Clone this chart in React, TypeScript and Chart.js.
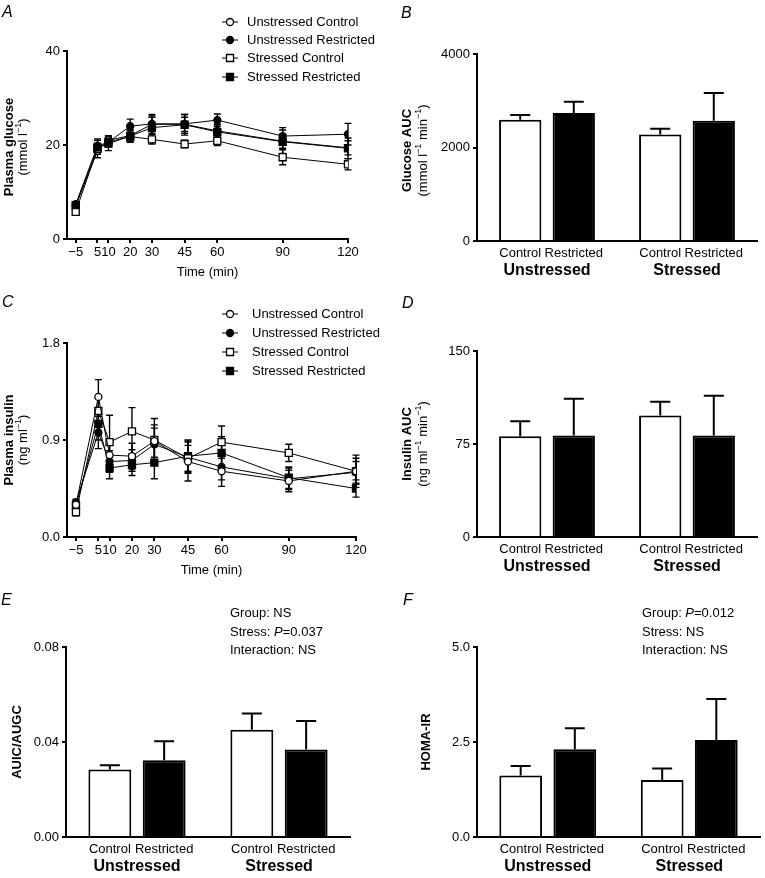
import React, { useEffect, useRef } from 'react';
import { Chart, registerables } from 'chart.js';

Chart.register(...registerables);

const FF = '"Liberation Sans", Arial, Helvetica, sans-serif';
Chart.defaults.font.family = FF;

// ---------------- DATA ----------------
const timePoints = [-5, 5, 10, 20, 30, 45, 60, 90, 120];
const timeTickLabels = ['\u22125', '5', '10', '20', '30', '45', '60', '90', '120'];
const groupNames = ['Unstressed Control', 'Unstressed Restricted', 'Stressed Control', 'Stressed Restricted'];

// Panel A: plasma glucose (mmol/l)
const glucoseUnstressedControl = [7.0, 18.8, 21.0, 22.0, 24.4, 24.4, 23.0, 20.8, 19.4];
const glucoseUnstressedRestricted = [7.4, 19.8, 20.6, 24.0, 24.5, 24.5, 25.3, 21.9, 22.3];
const glucoseStressedControl = [5.8, 19.2, 20.6, 21.8, 21.2, 20.2, 20.9, 17.4, 15.9];
const glucoseStressedRestricted = [7.2, 19.5, 20.3, 21.9, 23.7, 24.3, 22.8, 20.7, 19.3];
const glucoseUnstressedControlSem = [0.5, 1.5, 1.0, 1.2, 1.5, 1.5, 1.5, 1.5, 1.5];
const glucoseUnstressedRestrictedSem = [0.5, 1.5, 1.0, 1.5, 2.0, 2.0, 1.3, 1.8, 2.3];
const glucoseStressedControlSem = [0.5, 1.2, 0.8, 1.0, 1.0, 0.8, 1.0, 1.6, 1.2];
const glucoseStressedRestrictedSem = [0.5, 1.5, 1.5, 1.3, 2.5, 2.2, 1.5, 2.5, 2.2];

// Panel C: plasma insulin (ng/ml)
const insulinUnstressedControl = [0.30, 1.30, 0.76, 0.75, 0.89, 0.70, 0.61, 0.52, 0.61];
const insulinUnstressedRestricted = [0.32, 0.97, 0.70, 0.71, 0.86, 0.74, 0.65, 0.54, 0.60];
const insulinStressedControl = [0.23, 1.17, 0.88, 0.98, 0.90, 0.73, 0.88, 0.78, 0.61];
const insulinStressedRestricted = [0.29, 1.05, 0.64, 0.67, 0.69, 0.75, 0.78, 0.55, 0.45];
const insulinUnstressedControlSem = [0.03, 0.16, 0.12, 0.12, 0.15, 0.18, 0.14, 0.10, 0.12];
const insulinUnstressedRestrictedSem = [0.03, 0.15, 0.10, 0.10, 0.15, 0.15, 0.12, 0.10, 0.10];
const insulinStressedControlSem = [0.03, 0.12, 0.25, 0.22, 0.20, 0.12, 0.15, 0.08, 0.15];
const insulinStressedRestrictedSem = [0.03, 0.15, 0.10, 0.10, 0.15, 0.15, 0.15, 0.10, 0.08];

// Bar panels
const barGroups = ['Unstressed', 'Stressed'];
const barTreatments = ['Control', 'Restricted'];

const glucoseAucControl = [2593, 2279];
const glucoseAucControlSem = [100, 121];
const glucoseAucRestricted = [2736, 2571];
const glucoseAucRestrictedSem = [243, 593];

const insulinAucControl = [81.3, 98.0];
const insulinAucControlSem = [12.1, 11.0];
const insulinAucRestricted = [81.8, 81.8];
const insulinAucRestrictedSem = [29.7, 32.2];

const auicAugcControl = [0.0284, 0.0452];
const auicAugcControlSem = [0.0018, 0.0068];
const auicAugcRestricted = [0.0323, 0.0368];
const auicAugcRestrictedSem = [0.0080, 0.0120];

const homaControl = [1.62, 1.50];
const homaControlSem = [0.25, 0.30];
const homaRestricted = [2.31, 2.55];
const homaRestrictedSem = [0.55, 1.08];

// ---------------- STYLES / HELPERS ----------------
const seriesPointStyles = ['circle', 'circle', 'rect', 'rect'];
const seriesFilled = [false, true, false, true];
const glucoseDrawOrder = [3, 0, 2, 1];
const insulinDrawOrder = [0, 2, 1, 3];

const f = (size: number, weight = 'normal', style = 'normal') => `${style} ${weight} ${size}px ${FF}`;

type Seg = { t: string; font: string; dy?: number };
const reg = (t: string, size = 13): Seg => ({ t, font: f(size) });
const bold = (t: string, size = 13): Seg => ({ t, font: f(size, 'bold') });
const ital = (t: string, size = 13): Seg => ({ t, font: f(size, 'normal', 'italic') });
const sup = (t: string): Seg => ({ t, font: f(9), dy: -4 });

function drawRich(ctx: CanvasRenderingContext2D, segs: Seg[], x: number, y: number, align: 'left' | 'center' = 'left') {
  let w = 0;
  for (const s of segs) {
    ctx.font = s.font;
    w += ctx.measureText(s.t).width;
  }
  let cx = align === 'center' ? x - w / 2 : x;
  ctx.textAlign = 'left';
  ctx.textBaseline = 'middle';
  ctx.fillStyle = '#000';
  for (const s of segs) {
    ctx.font = s.font;
    ctx.fillText(s.t, cx, y + (s.dy || 0));
    cx += ctx.measureText(s.t).width;
  }
}

function drawRotated(ctx: CanvasRenderingContext2D, segs: Seg[], cx: number, cy: number) {
  ctx.save();
  ctx.translate(cx, cy);
  ctx.rotate(-Math.PI / 2);
  drawRich(ctx, segs, 0, 0, 'center');
  ctx.restore();
}

function drawLetter(ctx: CanvasRenderingContext2D, t: string, x: number, y: number) {
  ctx.save();
  ctx.font = f(16, 'normal', 'italic');
  ctx.fillStyle = '#000';
  ctx.textAlign = 'left';
  ctx.textBaseline = 'alphabetic';
  ctx.fillText(t, x, y);
  ctx.restore();
}

function drawMarker(ctx: CanvasRenderingContext2D, i: number, x: number, y: number) {
  ctx.save();
  ctx.lineWidth = 1.3;
  ctx.strokeStyle = '#000';
  ctx.fillStyle = seriesFilled[i] ? '#000' : '#fff';
  ctx.beginPath();
  if (seriesPointStyles[i] === 'circle') ctx.arc(x, y, 3.5, 0, Math.PI * 2);
  else ctx.rect(x - 3.5, y - 3.5, 7, 7);
  ctx.fill();
  ctx.stroke();
  ctx.restore();
}

function drawLegend(ctx: CanvasRenderingContext2D, rows: number[], mx: number, tx: number) {
  rows.forEach((y, i) => {
    ctx.save();
    ctx.strokeStyle = '#000';
    ctx.lineWidth = 1;
    ctx.beginPath();
    ctx.moveTo(mx - 8, y);
    ctx.lineTo(mx + 8, y);
    ctx.stroke();
    ctx.restore();
    drawMarker(ctx, i, mx, y);
    drawRich(ctx, [reg(groupNames[i])], tx, y);
  });
}

const gridOpts = { display: true, drawOnChartArea: false, drawTicks: true, tickLength: 4, color: '#000', lineWidth: 2 };
const borderOpts = { display: true, color: '#000', width: 2 };

const lineErrPlugin = (errs: number[][]) => ({
  id: 'lineErr',
  beforeDatasetsDraw(chart: any) {
    const ctx = chart.ctx;
    const xs = chart.scales.x;
    const ys = chart.scales.y;
    ctx.save();
    ctx.strokeStyle = '#000';
    ctx.lineWidth = 1.4;
    chart.data.datasets.forEach((ds: any, i: number) => {
      ds.data.forEach((p: any, j: number) => {
        const e = errs[i][j];
        const x = xs.getPixelForValue(p.x);
        const y1 = ys.getPixelForValue(p.y + e);
        const y2 = ys.getPixelForValue(p.y - e);
        ctx.beginPath();
        ctx.moveTo(x, y1);
        ctx.lineTo(x, y2);
        ctx.moveTo(x - 3.5, y1);
        ctx.lineTo(x + 3.5, y1);
        ctx.moveTo(x - 3.5, y2);
        ctx.lineTo(x + 3.5, y2);
        ctx.stroke();
      });
    });
    ctx.restore();
  },
});

const barErrPlugin = (errs: number[][]) => ({
  id: 'barErr',
  afterDatasetsDraw(chart: any) {
    const ctx = chart.ctx;
    const ys = chart.scales.y;
    ctx.save();
    ctx.strokeStyle = '#000';
    ctx.lineWidth = 2;
    chart.data.datasets.forEach((ds: any, i: number) => {
      const meta = chart.getDatasetMeta(i);
      meta.data.forEach((bar: any, j: number) => {
        const v = ds.data[j];
        const yTop = ys.getPixelForValue(v + errs[i][j]);
        ctx.beginPath();
        ctx.moveTo(bar.x, bar.y);
        ctx.lineTo(bar.x, yTop);
        ctx.moveTo(bar.x - 10, yTop);
        ctx.lineTo(bar.x + 10, yTop);
        ctx.stroke();
      });
    });
    ctx.restore();
  },
});

const textPlugin = (draw: (ctx: CanvasRenderingContext2D, chart: any) => void) => ({
  id: 'texts',
  afterDraw(chart: any) {
    const ctx = chart.ctx;
    ctx.save();
    draw(ctx, chart);
    ctx.restore();
  },
});

type LinePanel = {
  series: number[][];
  errs: number[][];
  order: number[];
  yMax: number;
  yStep: number;
  decimals: number;
  xMin: number;
  yW: number;
  xH: number;
  padTop: number;
  padRight: number;
  draw: (ctx: CanvasRenderingContext2D, chart: any) => void;
};

function lineConfig(p: LinePanel): any {
  return {
    type: 'line',
    data: {
      datasets: p.series.map((vals, i) => ({
        label: groupNames[i],
        order: p.order[i],
        data: timePoints.map((t, j) => ({ x: t, y: vals[j] })),
        borderColor: '#000',
        borderWidth: 1,
        pointStyle: seriesPointStyles[i],
        pointRadius: seriesPointStyles[i] === 'rect' ? 5 : 3.5,
        pointBackgroundColor: seriesFilled[i] ? '#000' : '#fff',
        pointBorderColor: '#000',
        pointBorderWidth: 1.3,
        fill: false,
        tension: 0,
      })),
    },
    options: {
      responsive: false,
      animation: false,
      devicePixelRatio: 1,
      events: [],
      layout: { padding: { top: p.padTop, right: p.padRight, left: 0, bottom: 0 } },
      plugins: { legend: { display: false }, tooltip: { enabled: false } },
      scales: {
        x: {
          type: 'linear',
          min: p.xMin,
          max: 120,
          afterBuildTicks: (s: any) => {
            s.ticks = timePoints.map((v) => ({ value: v }));
          },
          afterFit: (s: any) => {
            s.height = p.xH;
          },
          ticks: {
            color: '#000',
            font: { family: FF, size: 13 },
            padding: 2,
            autoSkip: false,
            maxRotation: 0,
            callback: (v: any) => timeTickLabels[timePoints.indexOf(Number(v))],
          },
          grid: gridOpts,
          border: borderOpts,
        },
        y: {
          min: 0,
          max: p.yMax,
          afterFit: (s: any) => {
            s.width = p.yW;
          },
          ticks: {
            color: '#000',
            font: { family: FF, size: 13 },
            padding: 3,
            stepSize: p.yStep,
            callback: (v: any) => Number(v).toFixed(p.decimals),
          },
          grid: gridOpts,
          border: borderOpts,
        },
      },
    },
    plugins: [lineErrPlugin(p.errs), textPlugin(p.draw)],
  };
}

type BarPanel = {
  control: number[];
  controlSem: number[];
  restricted: number[];
  restrictedSem: number[];
  yMax: number;
  yStep: number;
  decimals: number;
  yW: number;
  xH: number;
  padTop: number;
  padRight: number;
  draw: (ctx: CanvasRenderingContext2D, chart: any) => void;
};

function drawBarLabels(ctx: CanvasRenderingContext2D, chart: any) {
  const ca = chart.chartArea;
  [0, 1].forEach((d) => {
    chart.getDatasetMeta(d).data.forEach((bar: any) => {
      drawRich(ctx, [reg(barTreatments[d])], bar.x, ca.bottom + 12, 'center');
    });
  });
  const xs = chart.scales.x;
  barGroups.forEach((g, i) => {
    drawRich(ctx, [bold(g, 16)], xs.getPixelForValue(i), ca.bottom + 30, 'center');
  });
}

function barConfig(p: BarPanel): any {
  return {
    type: 'bar',
    data: {
      labels: barGroups,
      datasets: [
        {
          label: barTreatments[0],
          data: p.control,
          backgroundColor: '#fff',
          borderColor: '#000',
          borderWidth: 2,
          categoryPercentage: 0.765,
          barPercentage: 0.79,
        },
        {
          label: barTreatments[1],
          data: p.restricted,
          backgroundColor: '#000',
          borderColor: '#000',
          borderWidth: 2,
          categoryPercentage: 0.765,
          barPercentage: 0.79,
        },
      ],
    },
    options: {
      responsive: false,
      animation: false,
      devicePixelRatio: 1,
      events: [],
      layout: { padding: { top: p.padTop, right: p.padRight, left: 0, bottom: 0 } },
      plugins: { legend: { display: false }, tooltip: { enabled: false } },
      scales: {
        x: {
          afterFit: (s: any) => {
            s.height = p.xH;
          },
          ticks: { display: false },
          grid: { display: false },
          border: borderOpts,
        },
        y: {
          min: 0,
          max: p.yMax,
          afterFit: (s: any) => {
            s.width = p.yW;
          },
          ticks: {
            color: '#000',
            font: { family: FF, size: 13 },
            padding: 3,
            stepSize: p.yStep,
            callback: (v: any) => Number(v).toFixed(p.decimals),
          },
          grid: gridOpts,
          border: borderOpts,
        },
      },
    },
    plugins: [barErrPlugin([p.controlSem, p.restrictedSem]), textPlugin(p.draw)],
  };
}

function Panel({ left, top, width, height, make }: { left: number; top: number; width: number; height: number; make: () => any }) {
  const ref = useRef<HTMLCanvasElement>(null);
  useEffect(() => {
    const chart = new Chart(ref.current as HTMLCanvasElement, make());
    return () => chart.destroy();
  }, []);
  return <canvas ref={ref} width={width} height={height} style={{ position: 'absolute', left, top, width, height }} />;
}

const midY = (chart: any) => (chart.chartArea.top + chart.chartArea.bottom) / 2;
const midX = (chart: any) => (chart.chartArea.left + chart.chartArea.right) / 2;

const panelA = () =>
  lineConfig({
    series: [glucoseUnstressedControl, glucoseUnstressedRestricted, glucoseStressedControl, glucoseStressedRestricted],
    errs: [glucoseUnstressedControlSem, glucoseUnstressedRestrictedSem, glucoseStressedControlSem, glucoseStressedRestrictedSem],
    order: glucoseDrawOrder,
    yMax: 40,
    yStep: 20,
    decimals: 0,
    xMin: -9,
    yW: 67,
    xH: 51,
    padTop: 51,
    padRight: 47,
    draw: (ctx, chart) => {
      drawLetter(ctx, 'A', 2, 17);
      drawRotated(ctx, [bold('Plasma glucose')], 9, midY(chart) + 2);
      drawRotated(ctx, [reg('(mmol l'), sup('\u22121'), reg(')')], 23, midY(chart) + 2);
      drawRich(ctx, [reg('Time (min)')], midX(chart), chart.chartArea.bottom + 33, 'center');
      drawLegend(ctx, [22, 40, 58, 77], 230, 247);
    },
  });

const panelC = () =>
  lineConfig({
    series: [insulinUnstressedControl, insulinUnstressedRestricted, insulinStressedControl, insulinStressedRestricted],
    errs: [insulinUnstressedControlSem, insulinUnstressedRestrictedSem, insulinStressedControlSem, insulinStressedRestrictedSem],
    order: insulinDrawOrder,
    yMax: 1.8,
    yStep: 0.9,
    decimals: 1,
    xMin: -9,
    yW: 67,
    xH: 53,
    padTop: 53,
    padRight: 39,
    draw: (ctx, chart) => {
      drawLetter(ctx, 'C', 2, 17);
      drawRotated(ctx, [bold('Plasma insulin')], 9, midY(chart));
      drawRotated(ctx, [reg('(ng ml'), sup('\u22121'), reg(')')], 23, midY(chart));
      drawRich(ctx, [reg('Time (min)')], midX(chart), chart.chartArea.bottom + 33, 'center');
      drawLegend(ctx, [24, 43, 62, 81], 230, 252);
    },
  });

const panelB = () =>
  barConfig({
    control: glucoseAucControl,
    controlSem: glucoseAucControlSem,
    restricted: glucoseAucRestricted,
    restrictedSem: glucoseAucRestrictedSem,
    yMax: 4000,
    yStep: 2000,
    decimals: 0,
    yW: 97,
    xH: 49,
    padTop: 54,
    padRight: 8,
    draw: (ctx, chart) => {
      drawLetter(ctx, 'B', 21, 18);
      drawRotated(ctx, [bold('Glucose AUC')], 27, midY(chart) + 3);
      drawRotated(ctx, [reg('(mmol l'), sup('\u22121'), reg(' min'), sup('\u22121'), reg(')')], 43, midY(chart) + 3);
      drawBarLabels(ctx, chart);
    },
  });

const panelD = () =>
  barConfig({
    control: insulinAucControl,
    controlSem: insulinAucControlSem,
    restricted: insulinAucRestricted,
    restrictedSem: insulinAucRestrictedSem,
    yMax: 150,
    yStep: 75,
    decimals: 0,
    yW: 97,
    xH: 53,
    padTop: 61,
    padRight: 8,
    draw: (ctx, chart) => {
      drawLetter(ctx, 'D', 22, 18);
      drawRotated(ctx, [bold('Insulin AUC')], 27, midY(chart));
      drawRotated(ctx, [reg('(ng ml'), sup('\u22121'), reg(' min'), sup('\u22121'), reg(')')], 43, midY(chart));
      drawBarLabels(ctx, chart);
    },
  });

const panelE = () =>
  barConfig({
    control: auicAugcControl,
    controlSem: auicAugcControlSem,
    restricted: auicAugcRestricted,
    restrictedSem: auicAugcRestrictedSem,
    yMax: 0.08,
    yStep: 0.04,
    decimals: 2,
    yW: 66,
    xH: 41,
    padTop: 57,
    padRight: 45,
    draw: (ctx, chart) => {
      drawLetter(ctx, 'E', 1, 15);
      drawRotated(ctx, [bold('AUIC/AUGC')], 17, midY(chart));
      drawRich(ctx, [reg('Group: NS')], 230, 23);
      drawRich(ctx, [reg('Stress: '), ital('P'), reg('=0.037')], 230, 42);
      drawRich(ctx, [reg('Interaction: NS')], 230, 60);
      drawBarLabels(ctx, chart);
    },
  });

const panelF = () =>
  barConfig({
    control: homaControl,
    controlSem: homaControlSem,
    restricted: homaRestricted,
    restrictedSem: homaRestrictedSem,
    yMax: 5,
    yStep: 2.5,
    decimals: 1,
    yW: 97,
    xH: 41,
    padTop: 57,
    padRight: 5,
    draw: (ctx, chart) => {
      drawLetter(ctx, 'F', 23, 15);
      drawRotated(ctx, [bold('HOMA-IR')], 46, midY(chart));
      drawRich(ctx, [reg('Group: '), ital('P'), reg('=0.012')], 262, 23);
      drawRich(ctx, [reg('Stress: NS')], 262, 42);
      drawRich(ctx, [reg('Interaction: NS')], 262, 60);
      drawBarLabels(ctx, chart);
    },
  });

export default function App() {
  return (
    <div style={{ position: 'absolute', left: 0, top: 0, width: 765, height: 878, background: '#fff', overflow: 'hidden' }}>
      <Panel left={0} top={0} width={395} height={290} make={panelA} />
      <Panel left={0} top={290} width={395} height={300} make={panelC} />
      <Panel left={0} top={590} width={395} height={288} make={panelE} />
      <Panel left={380} top={0} width={385} height={290} make={panelB} />
      <Panel left={380} top={290} width={385} height={300} make={panelD} />
      <Panel left={380} top={590} width={385} height={288} make={panelF} />
    </div>
  );
}
